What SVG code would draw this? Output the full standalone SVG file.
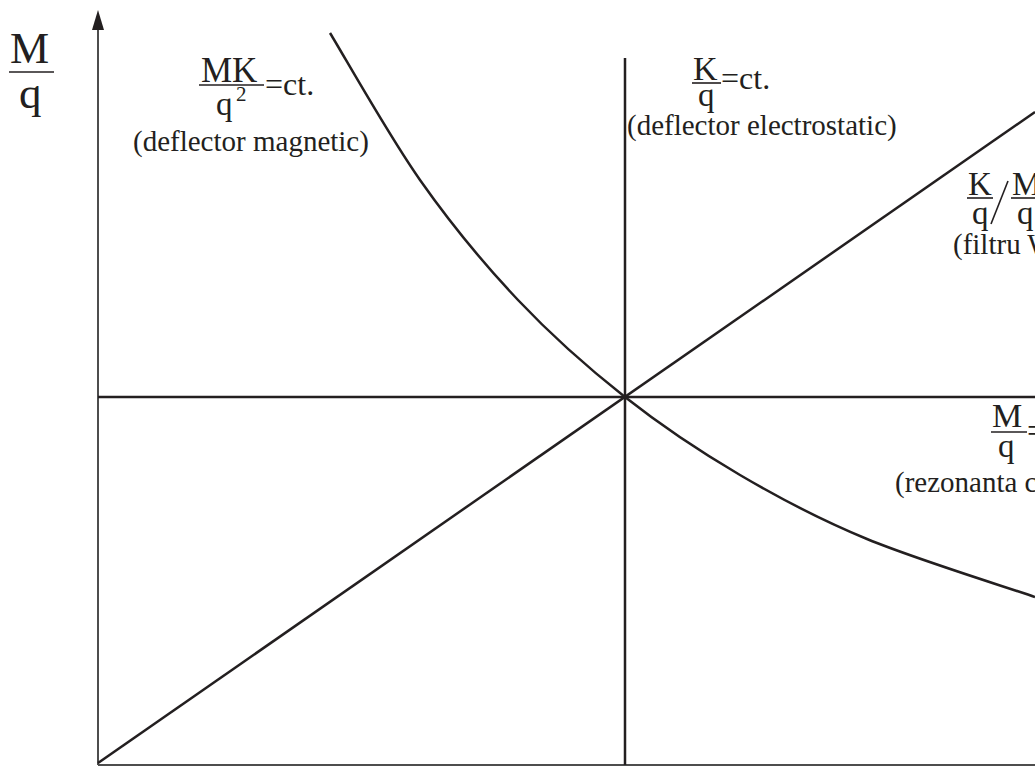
<svg xmlns="http://www.w3.org/2000/svg" width="1035" height="768" viewBox="0 0 1035 768">
<style>
.t{font-family:"Liberation Serif","Times New Roman",serif;fill:#231f20}
.f{font-size:33px}
.l{font-size:29px}
.ax{stroke:#4d4d4d;stroke-width:2;fill:none}
.ln{stroke:#231f20;stroke-width:2.5;fill:none}
.bar{stroke:#231f20;stroke-width:1.6}
</style>
<rect width="1035" height="768" fill="#fff"/>
<g id="axes">
<line class="ax" x1="98" y1="765" x2="98" y2="24"/>
<path d="M98,10 L104,30 L92,30 Z" fill="#231f20"/>
<line class="ax" x1="98" y1="765" x2="1035" y2="765"/>
<g id="axis-label">
<text class="t" x="10" y="63" font-size="44">M</text>
<line class="bar" x1="9" y1="72" x2="54" y2="72" stroke-width="2"/>
<text class="t" x="19" y="108" font-size="45">q</text>
</g>
</g>
<g id="connectors">
<line class="ln" x1="98" y1="397" x2="1035" y2="397"/>
<line class="ln" x1="625" y1="58" x2="625" y2="765"/>
<line class="ln" x1="98" y1="763" x2="1035" y2="112"/>
<path class="ln" d="M330,33 C345,57.5 388.7,135.5 420,180 C451.3,224.5 483.8,263.8 518,300 C552.2,336.2 588,367.8 625,397 C662,426.2 699.7,451.3 740,475 C780.3,498.7 817.8,518.7 867,539 C916.2,559.3 1007,587.3 1035,597"/>
</g>
<g id="label-magnetic">
<text class="t" x="201" y="82" font-size="35">MK</text>
<line class="bar" x1="199" y1="85" x2="264" y2="85"/>
<text class="t f" x="216" y="115">q</text>
<text class="t" x="236" y="101" font-size="21">2</text>
<text class="t" x="265" y="95" font-size="32">=ct.</text>
<text class="t l" x="133" y="151">(deflector magnetic)</text>
</g>
<g id="label-electrostatic">
<text class="t" x="693" y="80" font-size="34">K</text>
<line class="bar" x1="692" y1="83" x2="721" y2="83"/>
<text class="t f" x="698" y="106">q</text>
<text class="t" x="721" y="89" font-size="32">=ct.</text>
<text class="t l" x="627" y="135">(deflector electrostatic)</text>
</g>
<g id="label-wien">
<text class="t f" x="968" y="195">K</text>
<line class="bar" x1="967" y1="198" x2="993" y2="198"/>
<text class="t f" x="972" y="224">q</text>
<line class="bar" x1="991" y1="224" x2="1008" y2="181" stroke-width="1.2"/>
<text class="t f" x="1012" y="195">M</text>
<line class="bar" x1="1011" y1="198" x2="1035" y2="198"/>
<text class="t f" x="1017" y="224">q</text>
<text class="t l" x="953" y="254">(filtru W</text>
</g>
<g id="label-cyclotron">
<text class="t" x="992" y="427" font-size="34">M</text>
<line class="bar" x1="991" y1="432" x2="1027" y2="432"/>
<text class="t f" x="998" y="457">q</text>
<text class="t f" x="1027" y="442">=</text>
<text class="t l" x="895" y="492">(rezonanta c</text>
</g>
</svg>
